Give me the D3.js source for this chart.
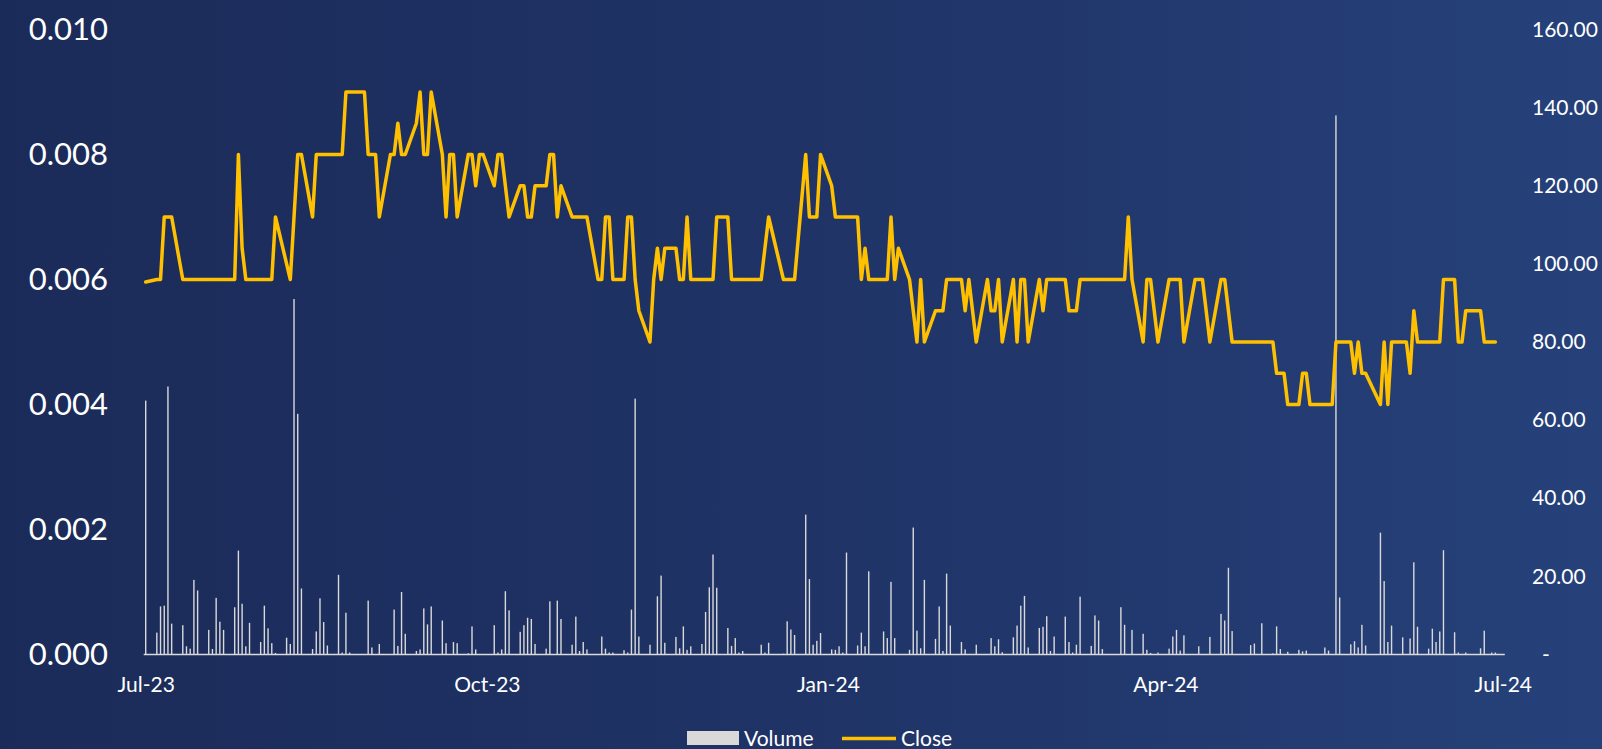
<!DOCTYPE HTML>
<html lang="en">
<head>
  <meta charset="utf-8">
  <title>Close and Volume</title>
  <script src="https://d3js.org/d3.v7.min.js"></script>
  <style>
    html, body { margin: 0; padding: 0; overflow: hidden; }
    body { width: 1602px; height: 749px; background: linear-gradient(90deg, #1b2b59 0%, #1f3366 50%, #26417a 100%); }
    svg { display: block; font-family: Lato, "Open Sans", sans-serif; }
  </style>
</head>
<body>
  <div id="stage"></div>
  <script>
    // close price, only the turning points of the line (date, price)
    var closePoints = [
      ["2023-06-30", 0.00596], ["2023-07-03", 0.006], ["2023-07-04", 0.006], ["2023-07-05", 0.007],
      ["2023-07-07", 0.007], ["2023-07-10", 0.006], ["2023-07-24", 0.006], ["2023-07-25", 0.008],
      ["2023-07-26", 0.0065], ["2023-07-27", 0.006], ["2023-08-03", 0.006], ["2023-08-04", 0.007],
      ["2023-08-08", 0.006], ["2023-08-10", 0.008], ["2023-08-11", 0.008], ["2023-08-14", 0.007],
      ["2023-08-15", 0.008], ["2023-08-22", 0.008], ["2023-08-23", 0.009], ["2023-08-28", 0.009],
      ["2023-08-29", 0.008], ["2023-08-31", 0.008], ["2023-09-01", 0.007], ["2023-09-04", 0.008],
      ["2023-09-05", 0.008], ["2023-09-06", 0.0085], ["2023-09-07", 0.008], ["2023-09-08", 0.008],
      ["2023-09-11", 0.0085], ["2023-09-12", 0.009], ["2023-09-13", 0.008], ["2023-09-14", 0.008],
      ["2023-09-15", 0.009], ["2023-09-18", 0.008], ["2023-09-19", 0.007], ["2023-09-20", 0.008],
      ["2023-09-21", 0.008], ["2023-09-22", 0.007], ["2023-09-25", 0.008], ["2023-09-26", 0.008],
      ["2023-09-27", 0.0075], ["2023-09-28", 0.008], ["2023-09-29", 0.008], ["2023-10-02", 0.0075],
      ["2023-10-03", 0.008], ["2023-10-04", 0.008], ["2023-10-06", 0.007], ["2023-10-09", 0.0075],
      ["2023-10-10", 0.0075], ["2023-10-11", 0.007], ["2023-10-12", 0.007], ["2023-10-13", 0.0075],
      ["2023-10-16", 0.0075], ["2023-10-17", 0.008], ["2023-10-18", 0.008], ["2023-10-19", 0.007],
      ["2023-10-20", 0.0075], ["2023-10-23", 0.007], ["2023-10-27", 0.007], ["2023-10-30", 0.006],
      ["2023-10-31", 0.006], ["2023-11-01", 0.007], ["2023-11-02", 0.007], ["2023-11-03", 0.006],
      ["2023-11-06", 0.006], ["2023-11-07", 0.007], ["2023-11-08", 0.007], ["2023-11-09", 0.006],
      ["2023-11-10", 0.0055], ["2023-11-13", 0.005], ["2023-11-14", 0.006], ["2023-11-15", 0.0065],
      ["2023-11-16", 0.006], ["2023-11-17", 0.0065], ["2023-11-20", 0.0065], ["2023-11-21", 0.006],
      ["2023-11-22", 0.006], ["2023-11-23", 0.007], ["2023-11-24", 0.006], ["2023-11-30", 0.006],
      ["2023-12-01", 0.007], ["2023-12-04", 0.007], ["2023-12-05", 0.006], ["2023-12-13", 0.006],
      ["2023-12-15", 0.007], ["2023-12-19", 0.006], ["2023-12-22", 0.006], ["2023-12-25", 0.008],
      ["2023-12-26", 0.007], ["2023-12-28", 0.007], ["2023-12-29", 0.008], ["2024-01-01", 0.0075],
      ["2024-01-02", 0.007], ["2024-01-08", 0.007], ["2024-01-09", 0.006], ["2024-01-10", 0.0065],
      ["2024-01-11", 0.006], ["2024-01-16", 0.006], ["2024-01-17", 0.007], ["2024-01-18", 0.006],
      ["2024-01-19", 0.0065], ["2024-01-22", 0.006], ["2024-01-24", 0.005], ["2024-01-25", 0.006],
      ["2024-01-26", 0.005], ["2024-01-29", 0.0055], ["2024-01-31", 0.0055], ["2024-02-01", 0.006],
      ["2024-02-05", 0.006], ["2024-02-06", 0.0055], ["2024-02-07", 0.006], ["2024-02-09", 0.005],
      ["2024-02-12", 0.006], ["2024-02-13", 0.0055], ["2024-02-14", 0.0055], ["2024-02-15", 0.006],
      ["2024-02-16", 0.005], ["2024-02-19", 0.006], ["2024-02-20", 0.005], ["2024-02-21", 0.006],
      ["2024-02-22", 0.006], ["2024-02-23", 0.005], ["2024-02-26", 0.006], ["2024-02-27", 0.0055],
      ["2024-02-28", 0.006], ["2024-03-04", 0.006], ["2024-03-05", 0.0055], ["2024-03-07", 0.0055],
      ["2024-03-08", 0.006], ["2024-03-20", 0.006], ["2024-03-21", 0.007], ["2024-03-22", 0.006],
      ["2024-03-25", 0.005], ["2024-03-26", 0.006], ["2024-03-27", 0.006], ["2024-03-29", 0.005],
      ["2024-04-01", 0.006], ["2024-04-04", 0.006], ["2024-04-05", 0.005], ["2024-04-08", 0.006],
      ["2024-04-10", 0.006], ["2024-04-12", 0.005], ["2024-04-15", 0.006], ["2024-04-16", 0.006],
      ["2024-04-18", 0.005], ["2024-04-29", 0.005], ["2024-04-30", 0.0045], ["2024-05-02", 0.0045],
      ["2024-05-03", 0.004], ["2024-05-06", 0.004], ["2024-05-07", 0.0045], ["2024-05-08", 0.0045],
      ["2024-05-09", 0.004], ["2024-05-15", 0.004], ["2024-05-16", 0.005], ["2024-05-20", 0.005],
      ["2024-05-21", 0.0045], ["2024-05-22", 0.005], ["2024-05-23", 0.0045], ["2024-05-24", 0.0045],
      ["2024-05-28", 0.004], ["2024-05-29", 0.005], ["2024-05-30", 0.004], ["2024-05-31", 0.005],
      ["2024-06-04", 0.005], ["2024-06-05", 0.0045], ["2024-06-06", 0.0055], ["2024-06-07", 0.005],
      ["2024-06-13", 0.005], ["2024-06-14", 0.006], ["2024-06-17", 0.006], ["2024-06-18", 0.005],
      ["2024-06-19", 0.005], ["2024-06-20", 0.0055], ["2024-06-24", 0.0055], ["2024-06-25", 0.005],
      ["2024-06-28", 0.005]
    ];

    // daily volume (date, volume), days with no visible bar left out
    var volumePoints = [
      ["2023-06-30", 65], ["2023-07-03", 5.6], ["2023-07-04", 12.3], ["2023-07-05", 12.5], ["2023-07-06", 68.6],
      ["2023-07-07", 7.9], ["2023-07-10", 7.5], ["2023-07-11", 2.1], ["2023-07-12", 1.5], ["2023-07-13", 19.1],
      ["2023-07-14", 16.4], ["2023-07-17", 6.3], ["2023-07-18", 1.4], ["2023-07-19", 14.5], ["2023-07-20", 8.4],
      ["2023-07-21", 6.3], ["2023-07-24", 12.1], ["2023-07-25", 26.6], ["2023-07-26", 13], ["2023-07-27", 2.1],
      ["2023-07-28", 8.1], ["2023-07-31", 3.2], ["2023-08-01", 12.5], ["2023-08-02", 6.7], ["2023-08-03", 2.9],
      ["2023-08-04", 0.4], ["2023-08-07", 4.3], ["2023-08-08", 2.7], ["2023-08-09", 91], ["2023-08-10", 61.6],
      ["2023-08-11", 16.9], ["2023-08-14", 1.4], ["2023-08-15", 5.9], ["2023-08-16", 14.4], ["2023-08-17", 8.3],
      ["2023-08-18", 2.3], ["2023-08-21", 20.4], ["2023-08-22", 0.5], ["2023-08-23", 10.7], ["2023-08-24", 0.5],
      ["2023-08-29", 13.8], ["2023-08-30", 1.8], ["2023-09-01", 2.7], ["2023-09-05", 11.5], ["2023-09-06", 2.2],
      ["2023-09-07", 16], ["2023-09-08", 5.3], ["2023-09-11", 0.9], ["2023-09-12", 1.3], ["2023-09-13", 11.8],
      ["2023-09-14", 7.7], ["2023-09-15", 12.3], ["2023-09-18", 8.7], ["2023-09-19", 2.9], ["2023-09-21", 3.2],
      ["2023-09-22", 2.9], ["2023-09-25", 0.3], ["2023-09-26", 7.2], ["2023-09-27", 1.3], ["2023-10-02", 7.5],
      ["2023-10-03", 0.5], ["2023-10-04", 1.3], ["2023-10-05", 16.2], ["2023-10-06", 11.3], ["2023-10-09", 5.8],
      ["2023-10-10", 7.5], ["2023-10-11", 9.4], ["2023-10-12", 9.1], ["2023-10-13", 2.7], ["2023-10-16", 1.5],
      ["2023-10-17", 13.6], ["2023-10-19", 13.8], ["2023-10-20", 9.1], ["2023-10-23", 2.5], ["2023-10-24", 9.7],
      ["2023-10-25", 0.9], ["2023-10-26", 3.2], ["2023-10-27", 1.3], ["2023-10-31", 4.6], ["2023-11-01", 1.5],
      ["2023-11-02", 0.5], ["2023-11-03", 0.5], ["2023-11-06", 1.1], ["2023-11-07", 0.5], ["2023-11-08", 11.5],
      ["2023-11-09", 65.5], ["2023-11-10", 4.6], ["2023-11-13", 2.5], ["2023-11-15", 14.9], ["2023-11-16", 20.2],
      ["2023-11-17", 3.0], ["2023-11-20", 4.5], ["2023-11-21", 1.6], ["2023-11-22", 7.2], ["2023-11-23", 1.2],
      ["2023-11-24", 2.1], ["2023-11-27", 2.7], ["2023-11-28", 10.9], ["2023-11-29", 17.2], ["2023-11-30", 25.6],
      ["2023-12-01", 17.1], ["2023-12-04", 6.8], ["2023-12-05", 2.2], ["2023-12-06", 4.2], ["2023-12-07", 0.5],
      ["2023-12-08", 0.9], ["2023-12-13", 2.5], ["2023-12-14", 0.5], ["2023-12-15", 3.0], ["2023-12-19", 0.2],
      ["2023-12-20", 8.5], ["2023-12-21", 6.4], ["2023-12-22", 5.0], ["2023-12-25", 35.8], ["2023-12-26", 19.3],
      ["2023-12-27", 2.5], ["2023-12-28", 3.5], ["2023-12-29", 5.5], ["2024-01-01", 1.3], ["2024-01-02", 1.2],
      ["2024-01-03", 2.1], ["2024-01-04", 0.5], ["2024-01-05", 26.1], ["2024-01-08", 2.3], ["2024-01-09", 5.6],
      ["2024-01-10", 2.1], ["2024-01-11", 21.3], ["2024-01-15", 5.9], ["2024-01-16", 4.2], ["2024-01-17", 18.6],
      ["2024-01-18", 4.2], ["2024-01-22", 1.2], ["2024-01-23", 32.5], ["2024-01-24", 6.1], ["2024-01-25", 1.6],
      ["2024-01-26", 19.1], ["2024-01-29", 4.0], ["2024-01-30", 12.3], ["2024-01-31", 0.9], ["2024-02-01", 20.7],
      ["2024-02-02", 7.4], ["2024-02-05", 3.2], ["2024-02-06", 1.3], ["2024-02-09", 2.5], ["2024-02-13", 4.2],
      ["2024-02-14", 2.1], ["2024-02-15", 3.9], ["2024-02-16", 0.6], ["2024-02-19", 4.4], ["2024-02-20", 7.4],
      ["2024-02-21", 12.5], ["2024-02-22", 15.0], ["2024-02-23", 1.8], ["2024-02-26", 6.8], ["2024-02-27", 7.1],
      ["2024-02-28", 9.8], ["2024-02-29", 0.9], ["2024-03-01", 4.6], ["2024-03-04", 9.7], ["2024-03-05", 3.2],
      ["2024-03-06", 0.5], ["2024-03-07", 2.5], ["2024-03-08", 14.8], ["2024-03-11", 2.2], ["2024-03-12", 10.0],
      ["2024-03-13", 8.7], ["2024-03-14", 1.4], ["2024-03-19", 12.1], ["2024-03-20", 7.6], ["2024-03-22", 6.3],
      ["2024-03-25", 5.3], ["2024-03-26", 1.2], ["2024-03-27", 0.4], ["2024-03-29", 0.5], ["2024-04-01", 1.5],
      ["2024-04-02", 4.6], ["2024-04-03", 6.3], ["2024-04-04", 1.0], ["2024-04-05", 4.9], ["2024-04-09", 2.1],
      ["2024-04-12", 4.5], ["2024-04-15", 10.4], ["2024-04-16", 8.7], ["2024-04-17", 22.2], ["2024-04-18", 6.0],
      ["2024-04-23", 2.4], ["2024-04-24", 2.8], ["2024-04-26", 8.0], ["2024-04-29", 0.3], ["2024-04-30", 7.2],
      ["2024-05-01", 1.4], ["2024-05-03", 0.7], ["2024-05-06", 1.2], ["2024-05-07", 0.8], ["2024-05-08", 1.0],
      ["2024-05-13", 1.8], ["2024-05-14", 1.0], ["2024-05-16", 138], ["2024-05-17", 14.6], ["2024-05-20", 2.6],
      ["2024-05-21", 3.4], ["2024-05-22", 1.8], ["2024-05-23", 7.6], ["2024-05-24", 2.3], ["2024-05-28", 31.2],
      ["2024-05-29", 18.8], ["2024-05-30", 3.2], ["2024-05-31", 7.4], ["2024-06-03", 4.4], ["2024-06-05", 4.1],
      ["2024-06-06", 23.6], ["2024-06-07", 7.1], ["2024-06-10", 1.5], ["2024-06-11", 6.6], ["2024-06-12", 3.2],
      ["2024-06-13", 5.9], ["2024-06-14", 26.7], ["2024-06-17", 5.7], ["2024-06-18", 0.5], ["2024-06-20", 0.5],
      ["2024-06-24", 1.6], ["2024-06-25", 6.1], ["2024-06-27", 0.5], ["2024-06-28", 0.5]
    ];

    // axis ticks
    var xTickDates = ["2023-06-30", "2023-09-30", "2023-12-31", "2024-03-31", "2024-06-30"];
    var xTickLabels = ["Jul-23", "Oct-23", "Jan-24", "Apr-24", "Jul-24"];
    var priceTicks = [0, 0.002, 0.004, 0.006, 0.008, 0.010];
    var volumeTicks = [0, 20, 40, 60, 80, 100, 120, 140, 160];

    var parseDate = d3.utcParse("%Y-%m-%d");

    var W = 1602, H = 749;
    var svg = d3.select("#stage").append("svg").attr("width", W).attr("height", H);

    var x = d3.scaleUtc()
      .domain([parseDate("2023-06-30"), parseDate("2024-06-30")])
      .range([145.7, 1502.8]);
    var yPrice = d3.scaleLinear().domain([0, 0.010]).range([654.5, 29.5]);
    var yVol = d3.scaleLinear().domain([0, 160]).range([654.5, 29.5]);

    // volume bars
    svg.append("g").selectAll("rect")
      .data(volumePoints)
      .join("rect")
      .attr("x", function (d) { return x(parseDate(d[0])) - 0.7; })
      .attr("width", 1.4)
      .attr("y", function (d) { return yVol(d[1]); })
      .attr("height", function (d) { return yVol(0) - yVol(d[1]); })
      .attr("fill", "#d9d9d9");

    // baseline
    svg.append("line")
      .attr("x1", x.range()[0] - 2).attr("x2", x.range()[1] + 2)
      .attr("y1", yPrice(0)).attr("y2", yPrice(0))
      .attr("stroke", "#d9d9d9").attr("stroke-width", 1.5);

    // close line
    var line = d3.line()
      .x(function (d) { return x(parseDate(d[0])); })
      .y(function (d) { return yPrice(d[1]); });
    svg.append("path")
      .datum(closePoints)
      .attr("d", line)
      .attr("fill", "none")
      .attr("stroke", "#ffc000")
      .attr("stroke-width", 3.5)
      .attr("stroke-linejoin", "round")
      .attr("stroke-linecap", "round");

    // left axis (price)
    var leftAxis = svg.append("g")
      .attr("transform", "translate(108,0)")
      .call(d3.axisLeft(yPrice).tickValues(priceTicks).tickFormat(d3.format(".3f")).tickSize(0).tickPadding(0));
    leftAxis.select(".domain").remove();
    leftAxis.selectAll("text").attr("fill", "#ffffff").style("font-size", "31px").style("font-family", "Lato, sans-serif");

    // right axis (volume)
    var rightAxis = svg.append("g")
      .attr("transform", "translate(1532,0)")
      .call(d3.axisRight(yVol).tickValues(volumeTicks)
        .tickFormat(function (d) { return d === 0 ? "-" : d3.format(".2f")(d); })
        .tickSize(0).tickPadding(0));
    rightAxis.select(".domain").remove();
    rightAxis.selectAll("text").attr("fill", "#ffffff").style("font-size", "21px").style("font-family", "Lato, sans-serif")
      .attr("x", function (d) { return d === 0 ? 10 : 0; });

    // bottom axis labels
    var bottomAxis = svg.append("g")
      .attr("transform", "translate(0," + yPrice(0) + ")")
      .call(d3.axisBottom(x).tickValues(xTickDates.map(parseDate))
        .tickFormat(function (d, i) { return xTickLabels[i]; })
        .tickSize(0).tickPadding(23));
    bottomAxis.select(".domain").remove();
    bottomAxis.selectAll("text").attr("fill", "#ffffff").style("font-size", "21px").style("font-family", "Lato, sans-serif");

    // legend
    var legend = svg.append("g").style("font-size", "21px").attr("fill", "#ffffff");
    legend.append("rect").attr("x", 687).attr("y", 731).attr("width", 52).attr("height", 14).attr("fill", "#d9d9d9");
    legend.append("text").attr("x", 744).attr("y", 745.5).text("Volume");
    legend.append("line").attr("x1", 842).attr("x2", 896).attr("y1", 738.5).attr("y2", 738.5)
      .attr("stroke", "#ffc000").attr("stroke-width", 3.3);
    legend.append("text").attr("x", 901).attr("y", 745.5).text("Close");
  </script>
</body>
</html>
